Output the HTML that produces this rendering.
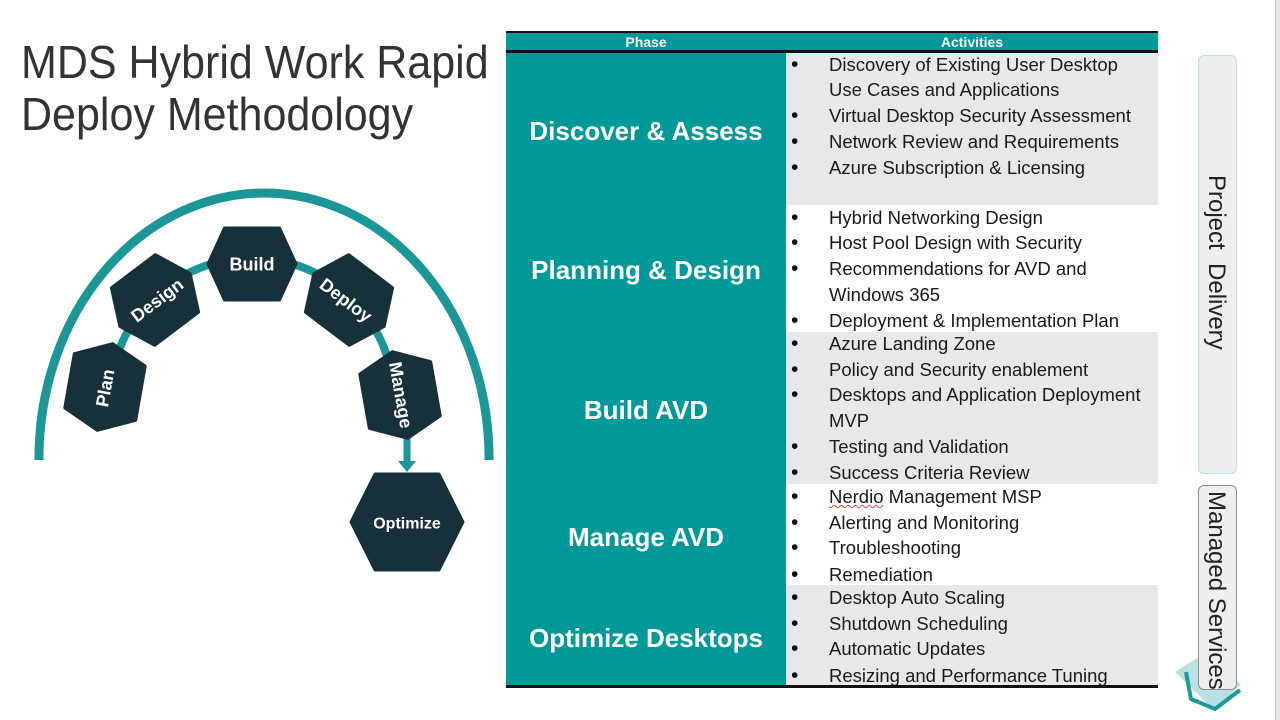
<!DOCTYPE html>
<html><head><meta charset="utf-8">
<style>
html,body{margin:0;padding:0;}
body{width:1280px;height:720px;position:relative;overflow:hidden;background:#fff;font-family:"Liberation Sans",Arial,sans-serif;}
.abs{position:absolute;}
.title{position:absolute;left:21px;font-size:46px;color:#333;white-space:nowrap;transform-origin:0 0;transform:scaleX(0.935);line-height:46px;}
.ph{position:absolute;left:506px;width:280px;text-align:center;color:#fff;font-weight:bold;font-size:26px;line-height:30px;white-space:nowrap;}
.ln{position:absolute;left:829px;height:26px;line-height:26px;font-size:18.5px;color:#1a1a1a;white-space:nowrap;}
.bl{position:absolute;left:791px;height:26px;line-height:26px;font-size:21px;color:#111;}
.vt{position:absolute;writing-mode:vertical-rl;font-size:24px;color:#222;white-space:pre;line-height:24px;}
</style></head><body>

<div class="title" style="top:39px;">MDS Hybrid Work Rapid</div>
<div class="title" style="top:91px;">Deploy Methodology</div>

<svg class="abs" style="left:0;top:0" width="520" height="600" viewBox="0 0 520 600">
  <path d="M39,460 L39,458 A225,265 0 0 1 489,458 L489,460" fill="none" stroke="#1b9797" stroke-width="9"/>
  <path d="M110,400 A142,142 0 0 1 394,400" fill="none" stroke="#1b9797" stroke-width="8"/>
  <line x1="407" y1="428" x2="407" y2="463" stroke="#1b9797" stroke-width="7"/>
  <polygon points="398,461 416,461 407,472" fill="#1b9797"/>
  <g fill="#16313a" stroke="#16313a" stroke-width="3" stroke-linejoin="round">
    <g transform="translate(252,264)"><polygon points="-44,0 -27.5,-36 27.5,-36 44,0 27.5,36 -27.5,36"/></g>
    <g transform="translate(155,300) rotate(-37)"><polygon points="-44,0 -27.5,-36 27.5,-36 44,0 27.5,36 -27.5,36"/></g>
    <g transform="translate(105,387) rotate(-80)"><polygon points="-44,0 -27.5,-36 27.5,-36 44,0 27.5,36 -27.5,36"/></g>
    <g transform="translate(349,300) rotate(37)"><polygon points="-44,0 -27.5,-36 27.5,-36 44,0 27.5,36 -27.5,36"/></g>
    <g transform="translate(400,395) rotate(80)"><polygon points="-44,0 -27.5,-36 27.5,-36 44,0 27.5,36 -27.5,36"/></g>
    <g transform="translate(407,522)"><polygon points="-56,0 -32,-48 32,-48 56,0 32,48 -32,48"/></g>
  </g>
  <g fill="#fff" font-family="Liberation Sans, Arial, sans-serif" font-weight="bold" font-size="18" text-anchor="middle">
    <text x="252" y="264" dy="0.35em">Build</text>
    <text transform="translate(157,300) rotate(-37)" dy="0.35em">Design</text>
    <text transform="translate(105,388) rotate(-80)" dy="0.35em">Plan</text>
    <text transform="translate(346,300) rotate(37)" dy="0.35em">Deploy</text>
    <text transform="translate(401,395) rotate(80)" dy="0.35em">Manage</text>
    <text x="407" y="523" dy="0.35em" font-size="16">Optimize</text>
  </g>
</svg>

<div class="abs" style="left:506px;top:31px;width:652px;height:2px;background:#111;"></div>
<div class="abs" style="left:506px;top:33px;width:652px;height:17px;background:#009999;"></div>
<div class="abs" style="left:506px;top:50px;width:652px;height:3px;background:#111;"></div>
<div class="abs" style="left:506px;top:33px;width:280px;height:17px;line-height:18px;text-align:center;color:#fff;font-weight:bold;font-size:14px;">Phase</div>
<div class="abs" style="left:786px;top:33px;width:372px;height:17px;line-height:18px;text-align:center;color:#fff;font-weight:bold;font-size:14px;">Activities</div>

<div class="abs" style="left:506px;top:53px;width:280px;height:632px;background:#009999;"></div>
<div class="abs" style="left:786px;top:53px;width:372px;height:152px;background:#e8e8e8;"></div>
<div class="abs" style="left:786px;top:205px;width:372px;height:127px;background:#fff;"></div>
<div class="abs" style="left:786px;top:332px;width:372px;height:152px;background:#e8e8e8;"></div>
<div class="abs" style="left:786px;top:484px;width:372px;height:101px;background:#fff;"></div>
<div class="abs" style="left:786px;top:585px;width:372px;height:100px;background:#e8e8e8;"></div>
<div class="abs" style="left:506px;top:685px;width:652px;height:3px;background:#111;"></div>

<div class="ph" style="top:116px;">Discover &amp; Assess</div>
<div class="ph" style="top:255px;">Planning &amp; Design</div>
<div class="ph" style="top:395px;">Build AVD</div>
<div class="ph" style="top:522px;">Manage AVD</div>
<div class="ph" style="top:623px;">Optimize Desktops</div>

<div class="bl" style="top:52px">•</div><div class="ln" style="top:52px">Discovery of Existing User Desktop</div>
<div class="ln" style="top:77px">Use Cases and Applications</div>
<div class="bl" style="top:103px">•</div><div class="ln" style="top:103px">Virtual Desktop Security Assessment</div>
<div class="bl" style="top:129px">•</div><div class="ln" style="top:129px">Network Review and Requirements</div>
<div class="bl" style="top:155px">•</div><div class="ln" style="top:155px">Azure Subscription &amp; Licensing</div>

<div class="bl" style="top:205px">•</div><div class="ln" style="top:205px">Hybrid Networking Design</div>
<div class="bl" style="top:230px">•</div><div class="ln" style="top:230px">Host Pool Design with Security</div>
<div class="bl" style="top:256px">•</div><div class="ln" style="top:256px">Recommendations for AVD and</div>
<div class="ln" style="top:282px">Windows 365</div>
<div class="bl" style="top:308px">•</div><div class="ln" style="top:308px">Deployment &amp; Implementation Plan</div>

<div class="bl" style="top:331px">•</div><div class="ln" style="top:331px">Azure Landing Zone</div>
<div class="bl" style="top:357px">•</div><div class="ln" style="top:357px">Policy and Security enablement</div>
<div class="bl" style="top:382px">•</div><div class="ln" style="top:382px">Desktops and Application Deployment</div>
<div class="ln" style="top:408px">MVP</div>
<div class="bl" style="top:434px">•</div><div class="ln" style="top:434px">Testing and Validation</div>
<div class="bl" style="top:460px">•</div><div class="ln" style="top:460px">Success Criteria Review</div>

<div class="bl" style="top:484px">•</div><div class="ln" style="top:484px"><span style="text-decoration:underline wavy #e04040;text-decoration-thickness:1px;">Nerdio</span> Management MSP</div>
<div class="bl" style="top:510px">•</div><div class="ln" style="top:510px">Alerting and Monitoring</div>
<div class="bl" style="top:535px">•</div><div class="ln" style="top:535px">Troubleshooting</div>
<div class="bl" style="top:562px">•</div><div class="ln" style="top:562px">Remediation</div>

<div class="bl" style="top:585px">•</div><div class="ln" style="top:585px">Desktop Auto Scaling</div>
<div class="bl" style="top:611px">•</div><div class="ln" style="top:611px">Shutdown Scheduling</div>
<div class="bl" style="top:636px">•</div><div class="ln" style="top:636px">Automatic Updates</div>
<div class="bl" style="top:663px">•</div><div class="ln" style="top:663px">Resizing and Performance Tuning</div>

<svg class="abs" style="left:1160px;top:640px" width="100" height="80" viewBox="1160 640 100 80">
  <polygon points="1175,672 1197,658 1241,684 1215,711" fill="#a9dada" opacity="0.8"/>
  <polyline points="1186,672 1191,699 1215,709 1240,690" fill="none" stroke="#1b9a9a" stroke-width="4"/>
</svg>

<div class="abs" style="left:1198px;top:55px;width:37px;height:417px;background:#eeeeee;border:1px solid #a6e6ec;border-radius:6px;"></div>
<div class="vt" style="left:1204px;top:175px;">Project  Delivery</div>
<div class="abs" style="left:1198px;top:485px;width:37px;height:203px;background:#eeeeee;border:1px solid #8c8c8c;border-radius:6px;"></div>
<div class="vt" style="left:1204px;top:491px;">Managed Services</div>

<div class="abs" style="left:1275px;top:0;width:5px;height:720px;background:#e4e4e4;border-left:1px solid #c4c4c4;"></div>
</body></html>
